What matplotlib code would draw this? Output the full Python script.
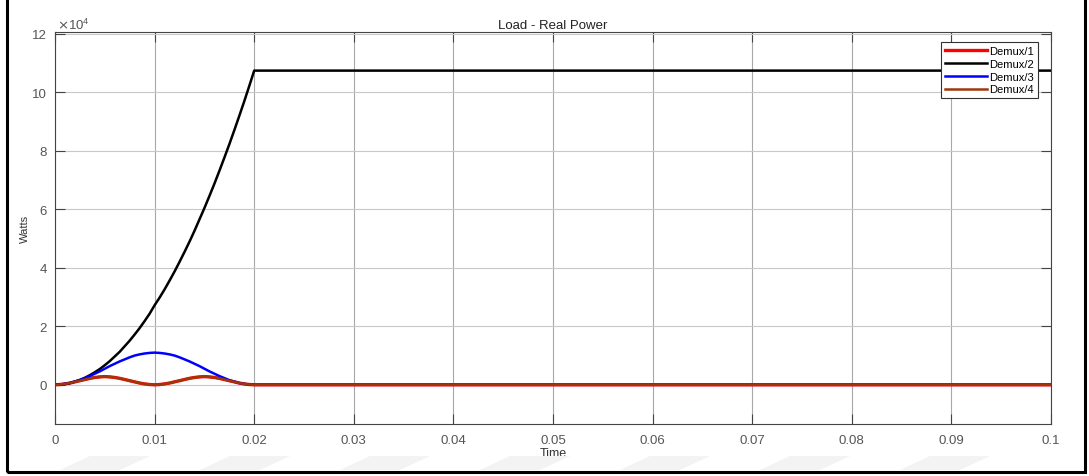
import numpy as np
import matplotlib.pyplot as plt
from matplotlib.patches import Rectangle, Polygon

# time samples (s), 0.5 ms steps over the first 20 ms, then the steady part
t = [0.0000, 0.0005, 0.0010, 0.0015, 0.0020, 0.0025, 0.0030, 0.0035, 0.0040, 0.0045,
     0.0050, 0.0055, 0.0060, 0.0065, 0.0070, 0.0075, 0.0080, 0.0085, 0.0090, 0.0095,
     0.0100, 0.0105, 0.0110, 0.0115, 0.0120, 0.0125, 0.0130, 0.0135, 0.0140, 0.0145,
     0.0150, 0.0155, 0.0160, 0.0165, 0.0170, 0.0175, 0.0180, 0.0185, 0.0190, 0.0195,
     0.0200, 0.1000]

# values in units of 1e4 W
demux1 = [0, 0.01, 0.03, 0.06, 0.10, 0.14, 0.18, 0.22, 0.25, 0.27,
          0.28, 0.27, 0.25, 0.22, 0.18, 0.14, 0.10, 0.06, 0.03, 0.01,
          0, 0.01, 0.03, 0.06, 0.10, 0.14, 0.18, 0.22, 0.25, 0.27,
          0.28, 0.27, 0.25, 0.22, 0.18, 0.14, 0.10, 0.06, 0.03, 0.01,
          0, 0]
demux2 = [0, 0.01, 0.03, 0.06, 0.11, 0.17, 0.24, 0.33, 0.43, 0.54,
          0.67, 0.81, 0.97, 1.13, 1.32, 1.51, 1.72, 1.94, 2.18, 2.43,
          2.72, 2.98, 3.26, 3.56, 3.87, 4.20, 4.54, 4.89, 5.26, 5.65,
          6.04, 6.45, 6.87, 7.31, 7.76, 8.22, 8.70, 9.19, 9.69, 10.21,
          10.74, 10.74]
demux3 = [0, 0.01, 0.03, 0.06, 0.11, 0.16, 0.23, 0.30, 0.38, 0.46,
          0.55, 0.64, 0.72, 0.80, 0.87, 0.94, 1.00, 1.04, 1.07, 1.09,
          1.10, 1.09, 1.07, 1.04, 1.00, 0.94, 0.87, 0.80, 0.72, 0.64,
          0.55, 0.46, 0.38, 0.30, 0.23, 0.16, 0.11, 0.06, 0.03, 0.01,
          0, 0]
demux4 = [0, 0.01, 0.03, 0.06, 0.10, 0.14, 0.18, 0.22, 0.25, 0.27,
          0.28, 0.27, 0.25, 0.22, 0.18, 0.14, 0.10, 0.06, 0.03, 0.01,
          0, 0.01, 0.03, 0.06, 0.10, 0.14, 0.18, 0.22, 0.25, 0.27,
          0.28, 0.27, 0.25, 0.22, 0.18, 0.14, 0.10, 0.06, 0.03, 0.01,
          0, 0]

xticks = [0, 0.01, 0.02, 0.03, 0.04, 0.05, 0.06, 0.07, 0.08, 0.09, 0.1]
xticklabels = ['0', '0.01', '0.02', '0.03', '0.04', '0.05', '0.06', '0.07', '0.08', '0.09', '0.1']
yticks = [0, 2, 4, 6, 8, 10, 12]

plt.rcParams['font.family'] = ['Liberation Sans', 'DejaVu Sans']

fig = plt.figure(figsize=(10.89, 4.77), dpi=100)
ax = fig.add_axes([55/1089, 1 - 425/477, (1051-55)/1089, (425-33)/477])

def w(v):
    return np.array(v) * 1e4

ax.plot(t, w(demux1), color='#ff0000', lw=2.4, label='Demux/1')
ax.plot(t, w(demux2), color='#000000', lw=1.8, label='Demux/2')
ax.plot(t, w(demux3), color='#0000ff', lw=1.8, label='Demux/3')
ax.plot(t, w(demux4), color='#a0360a', lw=1.8, label='Demux/4')

ax.set_xlim(0, 0.1)
ax.set_ylim(-1.34e4, 12.06e4)
ax.set_xticks(xticks)
ax.set_xticklabels(xticklabels)
ax.set_yticks(w(yticks))
ax.set_yticklabels([str(v) for v in yticks])
ax.text(0.002, 1.0, r'$\times\mathregular{10^4}$', transform=ax.transAxes,
        fontsize=9.5, color='#555555', va='bottom')

ax.xaxis.grid(True, color='#a8a8a8', lw=0.8)
ax.yaxis.grid(True, color='#c8c8c8', lw=0.8)
ax.tick_params(direction='in', length=7, width=0.8, colors='#444444',
               labelsize=9.5, labelcolor='#555555', top=True, right=True)
ax.tick_params(axis='x', pad=7)
ax.tick_params(axis='y', pad=6)
for s in ax.spines.values():
    s.set_color('#444444')
    s.set_linewidth(0.8)

ax.set_title('Load - Real Power', fontsize=9.5, color='#222222', pad=3)
ax.set_xlabel('Time', fontsize=9, color='#333333', labelpad=1)
ax.set_ylabel('Watts', fontsize=8, color='#333333', labelpad=1)

leg = ax.legend(loc='upper right', fontsize=8, handlelength=3.8, borderpad=0.35,
                labelspacing=0.25, handletextpad=0.2, fancybox=False, borderaxespad=0,
                bbox_to_anchor=(0.987, 0.974), framealpha=1)
leg.get_frame().set_edgecolor('#333333')
leg.get_frame().set_linewidth(0.8)

# white band cropping the bottom of the x label
fig.add_artist(Rectangle((10/1089, 6/477), 1070/1089, 14/477, transform=fig.transFigure,
                         facecolor='white', edgecolor='none', zorder=4))

# faint watermark stripes along the bottom
for x0 in [60, 200, 340, 480, 620, 760, 900]:
    fig.add_artist(Polygon([[x0/1089, 6/477], [(x0+60)/1089, 6/477],
                            [(x0+90)/1089, 20/477], [(x0+30)/1089, 20/477]],
                           closed=True, transform=fig.transFigure,
                           facecolor='#f3f3f3', edgecolor='none', zorder=5))

# outer black frame
fig.add_artist(Rectangle((7/1089, 4.5/477), (1085-7)/1089, 1.2, transform=fig.transFigure,
                         facecolor='none', edgecolor='black', lw=2.2, zorder=6))

fig.savefig('out.png', dpi=100)
